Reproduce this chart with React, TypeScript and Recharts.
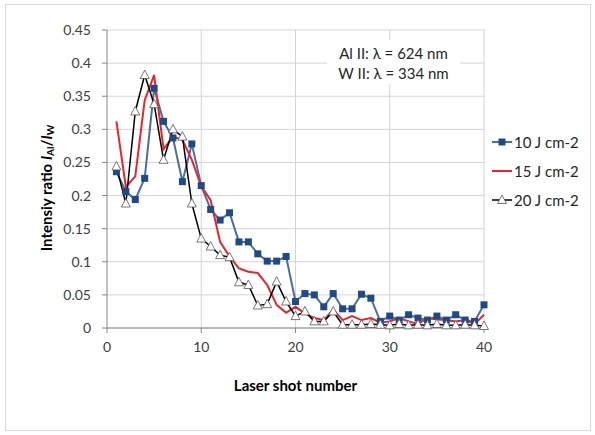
import React from "react"
import { LineChart, Line, XAxis, YAxis, CartesianGrid, Label } from "recharts"

const shots = [
  1, 2, 3, 4, 5, 6, 7, 8, 9, 10, 11, 12, 13, 14, 15, 16, 17, 18, 19, 20,
  21, 22, 23, 24, 25, 26, 27, 28, 29, 30, 31, 32, 33, 34, 35, 36, 37, 38, 39, 40,
]

// 10 J cm-2
const fluence10 = [
  0.236, 0.206, 0.194, 0.226, 0.362, 0.312, 0.287, 0.221, 0.278, 0.215,
  0.179, 0.163, 0.174, 0.13, 0.13, 0.112, 0.101, 0.101, 0.108, 0.04,
  0.052, 0.05, 0.032, 0.052, 0.029, 0.029, 0.051, 0.045, 0.01, 0.018,
  0.012, 0.02, 0.015, 0.012, 0.018, 0.012, 0.02, 0.012, 0.01, 0.035,
]

// 15 J cm-2
const fluence15 = [
  0.312, 0.213, 0.229, 0.344, 0.382, 0.27, 0.289, 0.284, 0.254, 0.214,
  0.193, 0.13, 0.108, 0.09, 0.085, 0.083, 0.065, 0.035, 0.023, 0.032,
  0.022, 0.015, 0.012, 0.028, 0.012, 0.018, 0.012, 0.015, 0.008, 0.01,
  0.015, 0.01, 0.006, 0.015, 0.013, 0.012, 0.01, 0.012, 0.006, 0.02,
]

// 20 J cm-2
const fluence20 = [
  0.244, 0.188, 0.327, 0.382, 0.338, 0.254, 0.3, 0.289, 0.188, 0.135,
  0.123, 0.11, 0.107, 0.069, 0.065, 0.034, 0.036, 0.07, 0.04, 0.018,
  0.025, 0.01, 0.01, 0.025, 0.005, 0.005, 0.005, 0.006, 0.005, 0.004,
  0.006, 0.004, 0.005, 0.004, 0.006, 0.004, 0.004, 0.005, 0.004, 0.003,
]

const xTicks = [0, 10, 20, 30, 40]
const yTicks = [0, 0.05, 0.1, 0.15, 0.2, 0.25, 0.3, 0.35, 0.4, 0.45]

const data = shots.map((s, i) => ({
  shot: s,
  f10: fluence10[i],
  f15: fluence15[i],
  f20: fluence20[i],
}))

const FONT = "Lato, 'Liberation Sans', sans-serif"
const BLUE_LINE = "#4a6e9e"
const BLUE_MARK = "#1f4a86"
const RED = "#e8242c"

const Square = (p: any) => {
  if (p.cx == null || p.cy == null) return <g key={p.index} />
  return <rect key={p.index} x={p.cx - 3.5} y={p.cy - 3.5} width={7} height={7} fill={BLUE_MARK} />
}

const Triangle = (p: any) => {
  if (p.cx == null || p.cy == null) return <g key={p.index} />
  const { cx, cy } = p
  return (
    <path
      key={p.index}
      d={`M${cx},${cy - 5} L${cx + 4.5},${cy + 3.5} L${cx - 4.5},${cy + 3.5} Z`}
      fill="#fff"
      stroke="#555"
      strokeWidth={0.8}
    />
  )
}

const YTitle = (props: any) => {
  const vb = props.viewBox
  const cx = vb.x + 46
  const cy = vb.y + vb.height / 2 + 9
  return (
    <text
      x={cx}
      y={cy}
      transform={`rotate(-90, ${cx}, ${cy})`}
      textAnchor="middle"
      dominantBaseline="central"
      fontFamily={FONT}
      fontWeight="bold"
      fontSize={15}
      fill="#000"
    >
      Intensiy ratio <tspan fontStyle="italic">I</tspan>
      <tspan fontSize={10} dy={4}>Al</tspan>
      <tspan dy={-4}>/</tspan>
      <tspan fontStyle="italic">I</tspan>
      <tspan fontSize={10} dy={4}>W</tspan>
    </text>
  )
}

const legendRows = [
  { name: "10 J cm-2", kind: "square", top: 142 },
  { name: "15 J cm-2", kind: "red", top: 171 },
  { name: "20 J cm-2", kind: "triangle", top: 200 },
]

function LegendMark({ kind }: { kind: string }) {
  return (
    <svg width={20} height={12} style={{ display: "block" }}>
      {kind === "square" && (
        <>
          <line x1={0} y1={6} x2={20} y2={6} stroke={BLUE_LINE} strokeWidth={2} />
          <rect x={6.5} y={2.5} width={7} height={7} fill={BLUE_MARK} />
        </>
      )}
      {kind === "red" && <line x1={0} y1={6} x2={20} y2={6} stroke={RED} strokeWidth={2} />}
      {kind === "triangle" && (
        <>
          <line x1={0} y1={6} x2={20} y2={6} stroke="#000" strokeWidth={1.5} />
          <path d="M10,1 L14.5,9.5 L5.5,9.5 Z" fill="#fff" stroke="#555" strokeWidth={0.8} />
        </>
      )}
    </svg>
  )
}

export default function App() {
  return (
    <div style={{ position: "absolute", left: 0, top: 0, width: 595, height: 435, background: "#fff" }}>
      <div
        style={{
          position: "absolute",
          left: 5,
          top: 4,
          width: 584,
          height: 425,
          border: "1px solid #d9d9d9",
        }}
      />
      <LineChart width={595} height={435} data={data} margin={{ top: 30, right: 111, bottom: 0, left: 0 }}>
        <CartesianGrid stroke="#d4d4d4" strokeWidth={1} verticalValues={[10, 20, 30, 40]} />
        <XAxis
          dataKey="shot"
          type="number"
          domain={[0, 40]}
          ticks={xTicks}
          height={107}
          tickSize={5}
          tickMargin={9}
          stroke="#868686"
          tick={{ fill: "#404040", fontSize: 14, fontFamily: FONT }}
        >
          <Label
            value="Laser shot number"
            position="insideBottom"
            offset={44}
            style={{ fontFamily: FONT, fontWeight: "bold", fontSize: 15, fill: "#000" }}
          />
        </XAxis>
        <YAxis
          type="number"
          domain={[0, 0.45]}
          ticks={yTicks}
          width={107}
          tickSize={5}
          tickMargin={11}
          stroke="#868686"
          tick={{ fill: "#404040", fontSize: 14, fontFamily: FONT }}
        >
          <Label content={YTitle} />
        </YAxis>
        <Line
          dataKey="f10"
          stroke={BLUE_LINE}
          strokeWidth={2}
          dot={Square}
          activeDot={false}
          isAnimationActive={false}
        />
        <Line dataKey="f15" stroke={RED} strokeWidth={2} dot={false} activeDot={false} isAnimationActive={false} />
        <Line
          dataKey="f20"
          stroke="#000"
          strokeWidth={1.5}
          dot={Triangle}
          activeDot={false}
          isAnimationActive={false}
        />
      </LineChart>
      <div
        style={{
          position: "absolute",
          left: 327,
          top: 40,
          width: 133,
          height: 44,
          background: "#fff",
          fontFamily: FONT,
          fontSize: 15,
          color: "#262626",
          textAlign: "center",
          lineHeight: "20px",
        }}
      >
        <div style={{ marginTop: 3 }}>Al II: λ = 624 nm</div>
        <div>W II: λ = 334 nm</div>
      </div>
      {legendRows.map((r) => (
        <div
          key={r.name}
          style={{
            position: "absolute",
            left: 492,
            top: r.top - 10,
            height: 20,
            display: "flex",
            alignItems: "center",
            fontFamily: FONT,
            fontSize: 15,
            color: "#262626",
            whiteSpace: "nowrap",
          }}
        >
          <LegendMark kind={r.kind} />
          <span style={{ marginLeft: 2 }}>{r.name}</span>
        </div>
      ))}
    </div>
  )
}
